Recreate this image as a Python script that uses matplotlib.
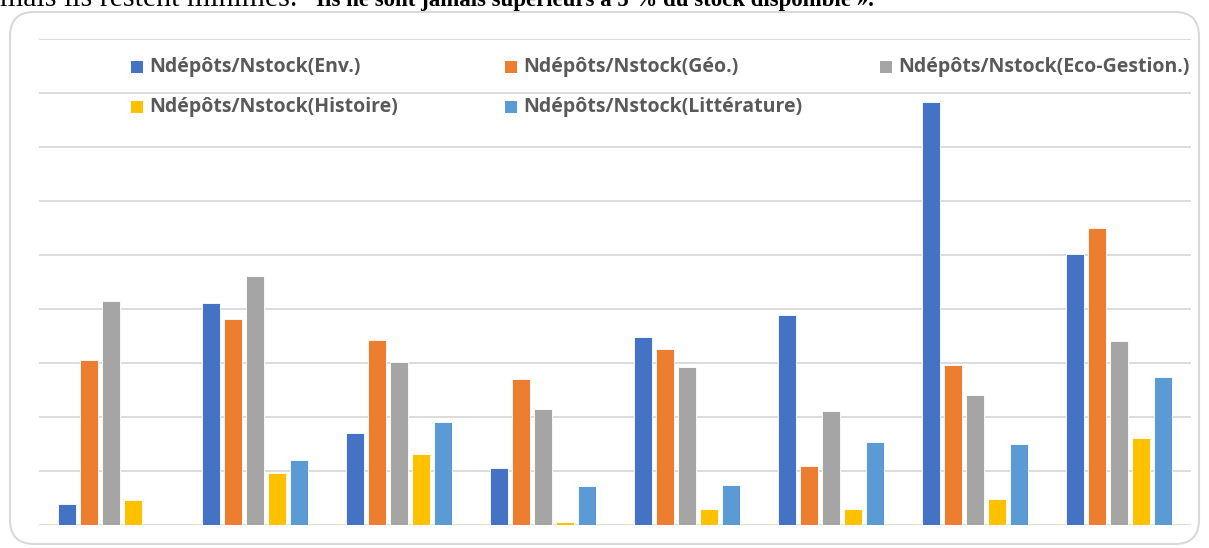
import matplotlib.pyplot as plt
import numpy as np
from matplotlib.patches import FancyBboxPatch, Rectangle

# valeurs (ratio en %)
groupes = ["", "", "", "", "", "", "", ""]
env = [0.19, 2.06, 0.85, 0.53, 1.74, 1.94, 3.92, 2.51]
geo = [1.53, 1.91, 1.71, 1.35, 1.63, 0.55, 1.48, 2.75]
eco = [2.07, 2.31, 1.51, 1.07, 1.46, 1.06, 1.20, 1.70]
histoire = [0.23, 0.48, 0.66, 0.03, 0.15, 0.15, 0.24, 0.81]
litterature = [0.0, 0.60, 0.95, 0.36, 0.37, 0.77, 0.75, 1.37]

series = [env, geo, eco, histoire, litterature]
noms = ["Ndépôts/Nstock(Env.)", "Ndépôts/Nstock(Géo.)", "Ndépôts/Nstock(Eco-Gestion.)",
        "Ndépôts/Nstock(Histoire)", "Ndépôts/Nstock(Littérature)"]
couleurs = ["#4472C4", "#ED7D31", "#A5A5A5", "#FFC000", "#5B9BD5"]

W, H = 1209, 548
fig = plt.figure(figsize=(W / 100, H / 100), dpi=100)

# cadre arrondi
cadre = FancyBboxPatch((10 / W, 4 / H), 1189 / W, 532 / H,
                       boxstyle="round,pad=0,rounding_size=0.02",
                       transform=fig.transFigure, facecolor="none",
                       edgecolor="#d9d9d9", linewidth=1.5, mutation_aspect=W / H, zorder=-1)
fig.patches.append(cadre)

# texte coupé en haut
fig.text(0.0, (H - 6) / H, "mais ils restent minimes.", family="Liberation Serif",
         fontsize=21.5, va="baseline", ha="left")
fig.text(316 / W, (H - 6) / H, "Ils ne sont jamais supérieurs à 5 % du stock disponible ».",
         family="Liberation Serif", fontsize=16.5, fontweight="bold", va="baseline", ha="left")

ax = fig.add_axes([39 / W, 23 / H, 1152 / W, 486 / H])
ax.set_facecolor("none")
x = np.arange(len(groupes))
largeur = 0.125
pas = 0.153
for i, (vals, c) in enumerate(zip(series, couleurs)):
    ax.bar(x + (i - 2) * pas, vals, largeur, color=c, edgecolor="white", linewidth=0.6, zorder=3)

ax.set_xlim(-0.5, 7.5)
ax.set_ylim(0, 4.5)
ax.set_yticks(np.arange(0, 4.51, 0.5))
ax.set_yticklabels([])
ax.set_xticks(x)
ax.set_xticklabels(groupes)
ax.tick_params(length=0)
ax.grid(axis="y", color="#d9d9d9", linewidth=1.3, zorder=0)
for s in ax.spines.values():
    s.set_visible(False)

# légende
pos = [(131, 67), (505, 67), (880, 67), (131, 107), (505, 107)]
for (px, py), nom, c in zip(pos, noms, couleurs):
    fig.patches.append(Rectangle((px / W, (H - py - 6) / H), 12 / W, 12 / H,
                                 transform=fig.transFigure, facecolor=c, edgecolor="none"))
    fig.text((px + 18) / W, (H - py) / H, nom, fontsize=14, fontweight="bold",
             color="#595959", va="center", ha="left", family="Open Sans")

fig.savefig("out.png", dpi=100)
